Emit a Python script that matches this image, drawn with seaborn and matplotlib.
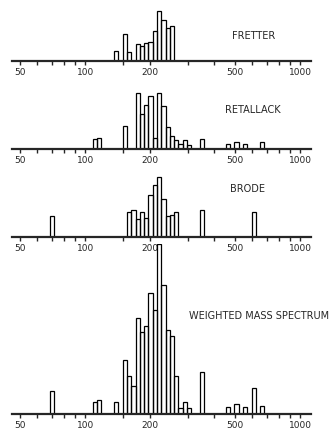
import numpy as np
import pandas as pd
import matplotlib
matplotlib.use("Agg")
import matplotlib.pyplot as plt
from matplotlib.ticker import FixedLocator, NullFormatter
import seaborn as sns

# bar centres (mass) and relative heights
fretter_mass = [140, 153, 160, 176, 184, 193, 202, 211, 221, 232, 243, 254]
fretter_h    = [10, 27, 9.5, 17, 15, 18, 19, 30, 50, 41, 33, 35]

retallack_mass = [111, 116, 153, 176, 184, 193, 202, 211, 221, 232, 243,
                  254, 266, 278, 292, 305, 351, 462, 507, 556, 668]
retallack_h    = [10.5, 11.5, 23, 56, 35, 44, 53, 11.5, 56, 43, 22.5,
                  13.5, 9.5, 5.5, 9.5, 4.5, 10.5, 5, 7.5, 5, 7.5]

brode_mass = [70, 160, 168, 176, 184, 193, 202, 211, 221, 232, 243, 254, 266, 351, 609]
brode_h    = [21.5, 25.5, 27.5, 18.5, 25.5, 19.5, 42.5, 52.5, 60, 38.5, 21, 22.5, 25.5, 27.5, 25]

weighted_mass = [70, 111, 116, 140, 153, 160, 168, 176, 184, 193, 202, 211, 221,
                 232, 243, 254, 266, 278, 292, 305, 351, 462, 507, 556, 609, 668]
weighted_h    = [23, 12.5, 14, 12.5, 54, 38, 28, 96, 82, 88, 121, 104, 170,
                 129, 84, 78, 38, 6.5, 12, 6.5, 42, 7.5, 10, 7.5, 26.5, 8.5]

panel_names = ["FRETTER", "RETALLACK", "BRODE", "WEIGHTED MASS SPECTRUM"]
tick_values = [50, 100, 200, 500, 1000]
tick_labels = ["50", "100", "200", "500", "1000"]
minor_values = [60, 70, 80, 90, 150, 300, 400, 600, 700, 800, 900]

sns.set_style("ticks")
plt.rcParams["font.family"] = ["DejaVu Sans"]

W, H = 336, 431
fig = plt.figure(figsize=(W / 100, H / 100), dpi=100)

# log-spaced bins, 50 per decade (given in log10 units)
BIN_W = 0.02
BIN_RANGE = (1.6146, 3.0946)

# (baseline y px, axis height px, label x px, label y px, label ha)
layout = [
    (62, 57, 254, 36, "center"),
    (150, 62, 253, 110, "center"),
    (238, 62, 247, 189, "center"),
    (415, 170, 189, 316, "left"),
]
data = [(fretter_mass, fretter_h), (retallack_mass, retallack_h),
        (brode_mass, brode_h), (weighted_mass, weighted_h)]

for (mass, h), (base, hgt, tx, ty, ha), name in zip(data, layout, panel_names):
    ax = fig.add_axes([12 / W, (H - base) / H, 299 / W, hgt / H])
    ax.patch.set_alpha(0)
    df = pd.DataFrame({"mass": mass, "h": h})
    sns.histplot(data=df, x="mass", weights="h", binwidth=BIN_W, binrange=BIN_RANGE,
                 log_scale=True, fill=False, color="black", linewidth=0.9, ax=ax)
    ax.set_xlim(45.7, 1125)
    ax.set_ylim(0, hgt)
    ax.set_yticks([])
    ax.set_xlabel("")
    ax.set_ylabel("")
    for s in ["left", "top", "right"]:
        ax.spines[s].set_visible(False)
    ax.spines["bottom"].set_linewidth(1.6)
    ax.xaxis.set_major_locator(FixedLocator(tick_values))
    ax.set_xticklabels(tick_labels)
    ax.xaxis.set_minor_locator(FixedLocator(minor_values))
    ax.xaxis.set_minor_formatter(NullFormatter())
    ax.tick_params(axis="x", which="major", length=3, width=1, pad=1.5, labelsize=6.5)
    ax.tick_params(axis="x", which="minor", length=3, width=1)
    fig.text(tx / W, 1 - ty / H, name, ha=ha, va="center", fontsize=7)

fig.savefig("out.png", dpi=100)
